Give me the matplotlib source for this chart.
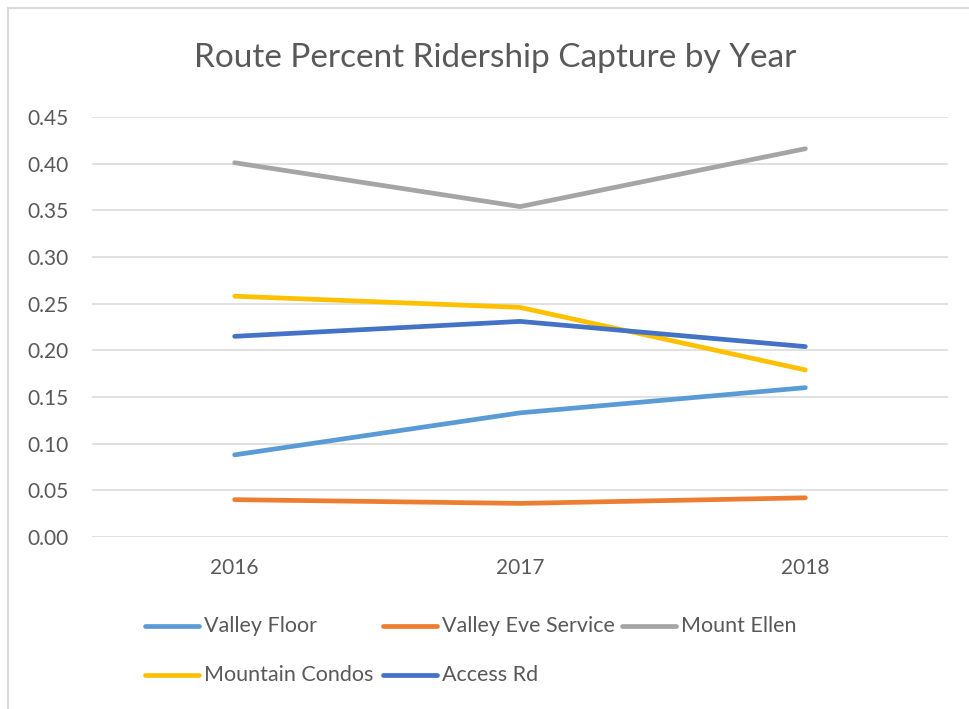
import matplotlib.pyplot as plt
from matplotlib.patches import Rectangle
from matplotlib.lines import Line2D

plt.rcParams['font.family'] = ['Lato', 'DejaVu Sans']

years = ['2016', '2017', '2018']
valley_floor = [0.088, 0.133, 0.160]
valley_eve = [0.040, 0.036, 0.042]
mount_ellen = [0.401, 0.354, 0.416]
mountain_condos = [0.258, 0.246, 0.179]
access_rd = [0.215, 0.231, 0.204]

names = ['Valley Floor', 'Valley Eve Service', 'Mount Ellen', 'Mountain Condos', 'Access Rd']
series = [valley_floor, valley_eve, mount_ellen, mountain_condos, access_rd]
colors = ['#5B9BD5', '#ED7D31', '#A5A5A5', '#FFC000', '#4472C4']
yticks = [0.0, 0.05, 0.10, 0.15, 0.20, 0.25, 0.30, 0.35, 0.40, 0.45]

W, H = 969, 709
fig = plt.figure(figsize=(W / 100, H / 100), dpi=100)
ax = fig.add_axes([92 / W, 1 - 537 / H, (948 - 92) / W, (537 - 117) / H])

x = range(len(years))
for name, vals, c in zip(names, series, colors):
    ax.plot(x, vals, color=c, lw=3.4, solid_capstyle='round', solid_joinstyle='round', label=name, zorder=3)

ax.set_xlim(-0.5, 2.5)
ax.set_ylim(0, 0.45)
ax.set_yticks(yticks)
ax.set_yticklabels(['%.2f' % v for v in yticks])
ax.set_xticks(list(x))
ax.set_xticklabels(years)
ax.yaxis.grid(True, color='#D9D9D9', lw=1.1)
ax.set_axisbelow(True)
for s in ax.spines.values():
    s.set_visible(False)
ax.tick_params(length=0, labelsize=15, colors='#595959')
ax.tick_params(axis='y', pad=17)
ax.tick_params(axis='x', pad=15)

fig.text(495 / W, 1 - 58 / H, 'Route Percent Ridership Capture by Year', ha='center', va='center',
         fontsize=24, color='#595959')

# legend, placed by hand in rows like the Excel one (3 per row)
col_x = [145, 383, 622]
row_y = [626, 675]
for i, (name, c) in enumerate(zip(names, colors)):
    lx = col_x[i % 3]
    ly = 1 - row_y[i // 3] / H
    fig.add_artist(Line2D([lx / W, (lx + 54) / W], [ly, ly], color=c, lw=3.4,
                          solid_capstyle='round', transform=fig.transFigure))
    fig.text((lx + 59) / W, ly, name, ha='left', va='center', fontsize=15.5, color='#595959')

fig.patches.append(Rectangle((8 / W, -0.1), 1.2, 1.1 - 8 / H, transform=fig.transFigure,
                             fill=False, edgecolor='#D9D9D9', lw=1.5))

fig.savefig('out.png', dpi=100)
